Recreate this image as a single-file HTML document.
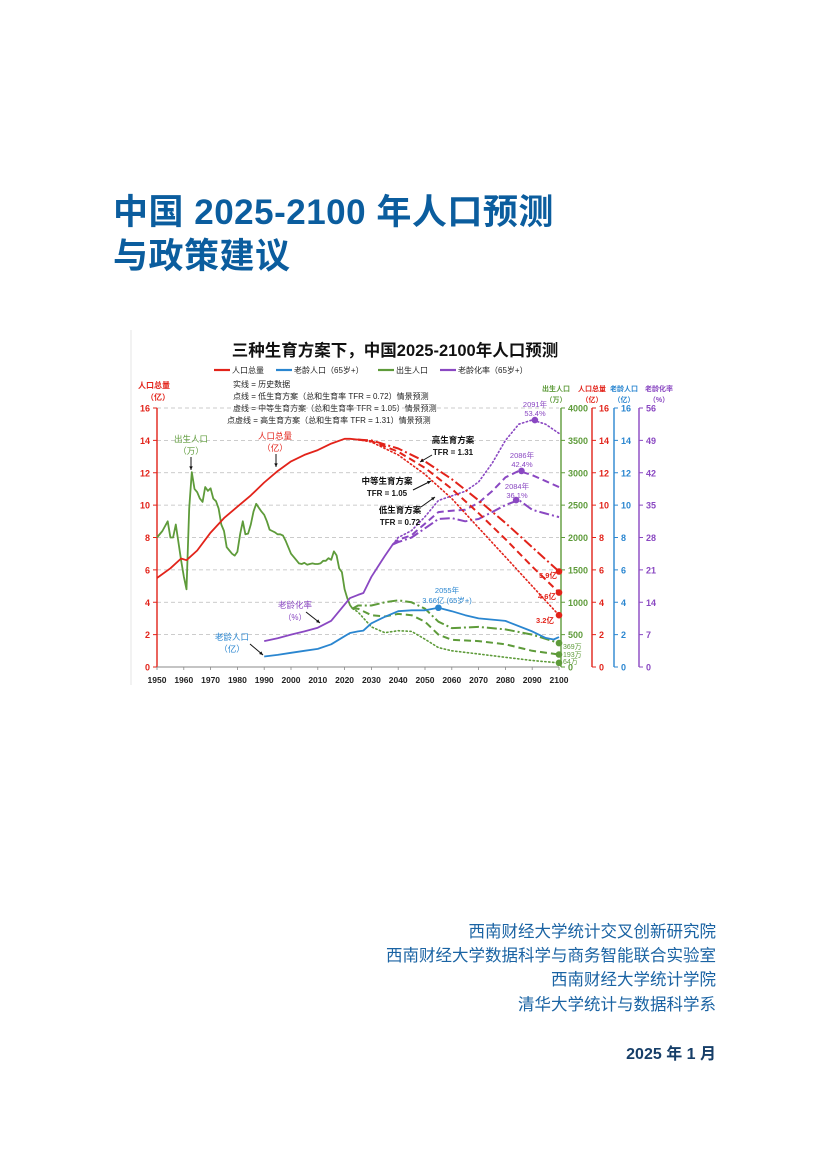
<!DOCTYPE html>
<html><head><meta charset="utf-8">
<style>
html,body{margin:0;padding:0;background:#fff;}
body{width:826px;height:1169px;position:relative;overflow:hidden;font-family:"Liberation Sans","Noto Sans CJK SC",sans-serif;}
.title{position:absolute;left:113px;color:#0b5d9e;font-weight:bold;font-size:35px;letter-spacing:0.5px;white-space:nowrap;font-family:"Liberation Sans","Noto Sans CJK SC",sans-serif;}
.aff{position:absolute;right:110px;color:#1a63a3;font-size:16.5px;white-space:nowrap;text-align:right;}
svg text{font-family:"Liberation Sans","Noto Sans CJK SC",sans-serif;}
</style></head><body>
<div class="title" style="top:184px;">中国 2025-2100 年人口预测</div>
<div class="title" style="top:228px;">与政策建议</div>

<svg id="chart" width="826" height="700" style="position:absolute;left:0;top:0;" xmlns="http://www.w3.org/2000/svg"></svg>

<div class="aff" style="top:918px;">西南财经大学统计交叉创新研究院</div>
<div class="aff" style="top:942px;">西南财经大学数据科学与商务智能联合实验室</div>
<div class="aff" style="top:966px;">西南财经大学统计学院</div>
<div class="aff" style="top:991px;">清华大学统计与数据科学系</div>
<div class="aff" style="top:1040px;font-size:16px;font-weight:bold;color:#163e68;">2025 年 1 月</div>

<script>
// ---- data ----
const xTicks = [1950,1960,1970,1980,1990,2000,2010,2020,2030,2040,2050,2060,2070,2080,2090,2100];
const leftTicks = [0,2,4,6,8,10,12,14,16];
const birthTicks = [0,500,1000,1500,2000,2500,3000,3500,4000];
const elderTicks = [0,2,4,6,8,10,12,14,16];
const rateTicks = [0,7,14,21,28,35,42,49,56];

const popHistYears = [1950,1955,1959,1961,1965,1970,1975,1980,1985,1990,1995,2000,2005,2010,2015,2020,2022,2025];
const popHistVals = [5.5,6.1,6.7,6.6,7.2,8.3,9.2,9.9,10.6,11.4,12.1,12.7,13.1,13.4,13.8,14.1,14.1,14.05];
const projYears = [2025,2030,2040,2050,2060,2070,2080,2090,2100];
const popLow = [14.05,13.9,13.1,11.9,10.4,8.6,6.8,5.0,3.2];
const popMid = [14.05,13.95,13.3,12.3,11.0,9.5,7.9,6.2,4.6];
const popHigh = [14.05,14.0,13.5,12.7,11.6,10.3,8.9,7.4,5.9];

const birthHistYears = [1950,1952,1954,1955,1956,1957,1959,1960,1961,1962,1963,1964,1965,1966,1967,1968,1969,1970,1971,1972,1973,1974,1975,1976,1977,1978,1979,1980,1981,1982,1983,1984,1985,1986,1987,1988,1989,1990,1991,1992,1993,1994,1995,1996,1997,1998,1999,2000,2001,2002,2003,2004,2005,2006,2007,2008,2009,2010,2011,2012,2013,2014,2015,2016,2017,2018,2019,2020,2021,2022,2023];
const birthHistVals = [2000,2100,2250,2000,2000,2200,1650,1400,1200,2450,3010,2750,2700,2600,2550,2780,2720,2760,2600,2560,2450,2200,2100,1850,1800,1750,1720,1780,2050,2250,2050,2060,2200,2400,2520,2460,2400,2350,2250,2120,2100,2080,2050,2050,2030,1950,1850,1750,1700,1650,1600,1590,1610,1580,1590,1600,1590,1590,1600,1640,1640,1680,1655,1786,1723,1523,1465,1200,1062,956,902];
const birthProjYears = [2023,2025,2030,2035,2040,2045,2050,2055,2060,2070,2080,2090,2100];
const birthHigh = [902,950,950,1000,1030,1000,900,700,600,620,580,500,369];
const birthMid = [902,900,800,780,820,800,700,500,420,400,350,250,193];
const birthLow = [902,850,620,530,560,550,430,300,250,200,150,100,64];

const elderYears = [1990,1995,2000,2005,2010,2015,2020,2022,2025,2027,2030,2035,2040,2045,2050,2055,2060,2065,2070,2080,2090,2095,2098,2100];
const elderVals = [0.65,0.75,0.88,1.0,1.12,1.4,1.9,2.1,2.2,2.25,2.7,3.1,3.45,3.5,3.5,3.66,3.45,3.2,3.0,2.85,2.2,1.8,1.7,1.85];

const rateHistYears = [1990,1995,2000,2005,2010,2015,2020,2022,2025,2027,2030,2035,2038];
const rateHistVals = [5.6,6.2,7.0,7.7,8.5,10,13.5,14.9,15.6,16,19.5,24,26.5];
const rateProjYears = [2038,2040,2045,2050,2055,2060,2065,2070,2075,2080,2085,2090,2095,2100];
const rateLow = [26.5,28,29.5,32.5,36,37,38,40,44,49,52.5,53.4,52.5,50.5];
const rateMid = [26.5,27.5,28.5,31,33.5,33.8,34,35.5,38,41,42.4,41.5,40.2,38.9];
const rateHigh = [26.5,27,28,30,32,32.2,31.5,32,33.5,35,36.1,34,33.2,32.4];

// ---- scales ----
const X0=157, X1=559, Y0=667, Y1=408;
function xs(yr){return X0+(yr-1950)*(X1-X0)/150;}
function yPop(v){return Y0-v*(Y0-Y1)/16;}
function yBirth(v){return Y0-v*(Y0-Y1)/4000;}
function yRate(v){return Y0-v*(Y0-Y1)/56;}

const svg=document.getElementById('chart');
const NS='http://www.w3.org/2000/svg';
function el(tag,attrs,parent){const e=document.createElementNS(NS,tag);for(const k in attrs)e.setAttribute(k,attrs[k]);(parent||svg).appendChild(e);return e;}
function txt(x,y,s,attrs,name){const t=el('text',Object.assign({x:x,y:y},attrs||{}));t.textContent=s;
  
  
  return t;}
function line(years,vals,yf,color,w,dash,name){
  let d='';years.forEach((yr,i)=>{d+=(i?'L':'M')+xs(yr).toFixed(1)+','+yf(vals[i]).toFixed(1);});
  const p=el('path',{d:d,fill:'none',stroke:color,'stroke-width':w,'stroke-linejoin':'round','stroke-linecap':dash==='1.3 2.6'?'round':'butt'});
  if(dash)p.setAttribute('stroke-dasharray',dash);
  
  
  return p;}
function dot(x,y,c,name){const d=el('circle',{cx:x,cy:y,r:3.3,fill:c});
  
  }

const RED='#e2231a', BLUE='#2a86d0', GREEN='#5e9b3a', PURPLE='#8a48c2';
const DOT='1.3 2.6', DASH='7 4', DASHDOT='10 3 2 3';

el('line',{x1:131,y1:330,x2:131,y2:685,stroke:'#e6e6e6','stroke-width':1});

txt(395,356,'三种生育方案下，中国2025-2100年人口预测',{'font-size':16.5,'font-weight':'bold','text-anchor':'middle',fill:'#111'},'chart-title');
const leg=[[214,RED,'人口总量'],[276,BLUE,'老龄人口（65岁+）'],[378,GREEN,'出生人口'],[440,PURPLE,'老龄化率（65岁+）']];
leg.forEach((l,i)=>{
  const ln=el('line',{x1:l[0],y1:370,x2:l[0]+16,y2:370,stroke:l[1],'stroke-width':2.2});
  
  
  txt(l[0]+18,373,l[2],{'font-size':8,fill:'#222'},'legend-entry');
});
const notes=['实线 = 历史数据','点线 = 低生育方案（总和生育率  TFR = 0.72）情景预测','虚线 = 中等生育方案（总和生育率  TFR = 1.05）情景预测','点虚线 = 高生育方案（总和生育率  TFR = 1.31）情景预测'];
const nx=[233,233,233,227];
notes.forEach((n,i)=>txt(nx[i],387+i*12,n,{'font-size':8,fill:'#222'},'legend-note'));

leftTicks.forEach(v=>{
  if(v>0){const g=el('line',{x1:X0,y1:yPop(v),x2:X1,y2:yPop(v),stroke:'#bbb','stroke-width':0.8,'stroke-dasharray':'4 3'});
  
  }
  el('line',{x1:X0-4,y1:yPop(v),x2:X0,y2:yPop(v),stroke:RED,'stroke-width':1});
  txt(X0-7,yPop(v)+3.5,String(v),{'font-size':9,'font-weight':'bold',fill:RED,'text-anchor':'end'},'left-tick-label');
});
el('line',{x1:X0,y1:Y1,x2:X0,y2:Y0,stroke:RED,'stroke-width':1.4});
txt(138,388,'人口总量',{'font-size':8,'font-weight':'bold',fill:RED},'left-axis-title');
txt(146,400,'（亿）',{'font-size':8,'font-weight':'bold',fill:RED},'left-axis-unit');
el('line',{x1:X0,y1:Y0,x2:X1,y2:Y0,stroke:'#888','stroke-width':1});
xTicks.forEach(yr=>{
  el('line',{x1:xs(yr),y1:Y0,x2:xs(yr),y2:Y0+3,stroke:'#888','stroke-width':0.8});
  txt(xs(yr),683,String(yr),{'font-size':8.5,'font-weight':'bold',fill:'#222','text-anchor':'middle'},'x-tick-label');
});

function rightAxis(ax,ticks,color,scale,title1,title2,tx,name){
  el('line',{x1:ax,y1:Y1,x2:ax,y2:Y0,stroke:color,'stroke-width':1.4});
  ticks.forEach(v=>{
    const y=scale(v);
    el('line',{x1:ax,y1:y,x2:ax+4,y2:y,stroke:color,'stroke-width':1});
    txt(ax+7,y+3.5,String(v),{'font-size':9,fill:color,'font-weight':'bold'},name+'-tick-label');
  });
  txt(tx,391,title1,{'font-size':7,'font-weight':'bold',fill:color,'text-anchor':'middle'},name+'-title');
  txt(tx,402,title2,{'font-size':7,'font-weight':'bold',fill:color,'text-anchor':'middle'},name+'-unit');
}
rightAxis(561,birthTicks,GREEN,yBirth,'出生人口','（万）',556,'births-axis');
rightAxis(592,leftTicks,RED,yPop,'人口总量','（亿）',592,'population-right-axis');
rightAxis(614,elderTicks,BLUE,yPop,'老龄人口','（亿）',624,'elderly-axis');
rightAxis(639,rateTicks,PURPLE,yRate,'老龄化率','（%）',659,'aging-rate-axis');

line(birthHistYears,birthHistVals,yBirth,GREEN,1.8,null,'births-history-line');
line(birthProjYears,birthHigh,yBirth,GREEN,2,DASHDOT,'births-high-line');
line(birthProjYears,birthMid,yBirth,GREEN,2,DASH,'births-mid-line');
line(birthProjYears,birthLow,yBirth,GREEN,1.6,DOT,'births-low-line');
line(elderYears,elderVals,yPop,BLUE,1.8,null,'elderly-line');
line(rateHistYears,rateHistVals,yRate,PURPLE,1.8,null,'aging-rate-history-line');
line(rateProjYears,rateLow,yRate,PURPLE,1.6,DOT,'aging-rate-low-line');
line(rateProjYears,rateMid,yRate,PURPLE,2,DASH,'aging-rate-mid-line');
line(rateProjYears,rateHigh,yRate,PURPLE,2,DASHDOT,'aging-rate-high-line');
line(popHistYears,popHistVals,yPop,RED,1.8,null,'population-history-line');
line(projYears,popHigh,yPop,RED,2,DASHDOT,'population-high-line');
line(projYears,popMid,yPop,RED,2,DASH,'population-mid-line');
line(projYears,popLow,yPop,RED,1.6,DOT,'population-low-line');

const L=projYears.length-1;
dot(xs(2100),yPop(popHigh[L]),RED,'population-high-end');
dot(xs(2100),yPop(popMid[L]),RED,'population-mid-end');
dot(xs(2100),yPop(popLow[L]),RED,'population-low-end');
const B=birthProjYears.length-1;
dot(xs(2100),yBirth(birthHigh[B]),GREEN,'births-high-end');
dot(xs(2100),yBirth(birthMid[B]),GREEN,'births-mid-end');
dot(xs(2100),yBirth(birthLow[B]),GREEN,'births-low-end');
dot(xs(2055),yPop(3.66),BLUE,'elderly-peak');
dot(xs(2091),yRate(53.4),PURPLE,'aging-low-peak');
dot(xs(2086),yRate(42.4),PURPLE,'aging-mid-peak');
dot(xs(2084),yRate(36.1),PURPLE,'aging-high-peak');

function arrow(x1,y1,x2,y2,c){el('line',{x1:x1,y1:y1,x2:x2,y2:y2,stroke:c,'stroke-width':1});
  const a=Math.atan2(y2-y1,x2-x1),s=4;
  el('path',{d:`M${x2},${y2}L${x2-s*Math.cos(a-0.45)},${y2-s*Math.sin(a-0.45)}L${x2-s*Math.cos(a+0.45)},${y2-s*Math.sin(a+0.45)}Z`,fill:c});}
txt(191,442,'出生人口',{'font-size':8.5,fill:GREEN,'text-anchor':'middle'},'births-annotation');
txt(191,454,'（万）',{'font-size':8.5,fill:GREEN,'text-anchor':'middle'},'births-annotation-unit');
arrow(191,457,191,470,'#111');
txt(275,439,'人口总量',{'font-size':8.5,fill:RED,'text-anchor':'middle'},'population-annotation');
txt(275,451,'（亿）',{'font-size':8.5,fill:RED,'text-anchor':'middle'},'population-annotation-unit');
arrow(276,454,276,467,'#111');
txt(453,443,'高生育方案',{'font-size':8.5,'font-weight':'bold',fill:'#111','text-anchor':'middle'},'high-scenario-label');
txt(453,455,'TFR = 1.31',{'font-size':8,'font-weight':'bold',fill:'#111','text-anchor':'middle'},'high-scenario-tfr');
arrow(432,455,420,462,'#111');
txt(387,484,'中等生育方案',{'font-size':8.5,'font-weight':'bold',fill:'#111','text-anchor':'middle'},'mid-scenario-label');
txt(387,496,'TFR = 1.05',{'font-size':8,'font-weight':'bold',fill:'#111','text-anchor':'middle'},'mid-scenario-tfr');
arrow(413,490,431,481,'#111');
txt(400,513,'低生育方案',{'font-size':8.5,'font-weight':'bold',fill:'#111','text-anchor':'middle'},'low-scenario-label');
txt(400,525,'TFR = 0.72',{'font-size':8,'font-weight':'bold',fill:'#111','text-anchor':'middle'},'low-scenario-tfr');
arrow(421,507,435,497,'#111');
txt(295,608,'老龄化率',{'font-size':8.5,fill:PURPLE,'text-anchor':'middle'},'aging-rate-annotation');
txt(295,620,'（%）',{'font-size':8,fill:PURPLE,'text-anchor':'middle'},'aging-rate-annotation-unit');
arrow(306,612,320,623,'#111');
txt(232,640,'老龄人口',{'font-size':8.5,fill:BLUE,'text-anchor':'middle'},'elderly-annotation');
txt(232,652,'（亿）',{'font-size':8.5,fill:BLUE,'text-anchor':'middle'},'elderly-annotation-unit');
arrow(250,644,263,655,'#111');
txt(447,593,'2055年',{'font-size':7.5,fill:BLUE,'text-anchor':'middle'},'elderly-peak-year');
txt(447,603,'3.66亿 (65岁+)',{'font-size':7.5,fill:BLUE,'text-anchor':'middle'},'elderly-peak-value');
txt(535,407,'2091年',{'font-size':7.5,fill:PURPLE,'text-anchor':'middle'},'aging-low-peak-year');
txt(535,416,'53.4%',{'font-size':7.5,fill:PURPLE,'text-anchor':'middle'},'aging-low-peak-value');
txt(522,458,'2086年',{'font-size':7.5,fill:PURPLE,'text-anchor':'middle'},'aging-mid-peak-year');
txt(522,467,'42.4%',{'font-size':7.5,fill:PURPLE,'text-anchor':'middle'},'aging-mid-peak-value');
txt(517,489,'2084年',{'font-size':7.5,fill:PURPLE,'text-anchor':'middle'},'aging-high-peak-year');
txt(517,498,'36.1%',{'font-size':7.5,fill:PURPLE,'text-anchor':'middle'},'aging-high-peak-value');
txt(548,578,'5.9亿',{'font-size':7.5,'font-weight':'bold',fill:RED,'text-anchor':'middle'},'population-high-end-label');
txt(547,599,'4.6亿',{'font-size':7.5,'font-weight':'bold',fill:RED,'text-anchor':'middle'},'population-mid-end-label');
txt(545,623,'3.2亿',{'font-size':7.5,'font-weight':'bold',fill:RED,'text-anchor':'middle'},'population-low-end-label');
txt(563,649,'369万',{'font-size':7,fill:GREEN},'births-high-end-label');
txt(563,657,'193万',{'font-size':7,fill:GREEN},'births-mid-end-label');
txt(563,664,'64万',{'font-size':7,fill:GREEN},'births-low-end-label');
</script>
</body></html>
